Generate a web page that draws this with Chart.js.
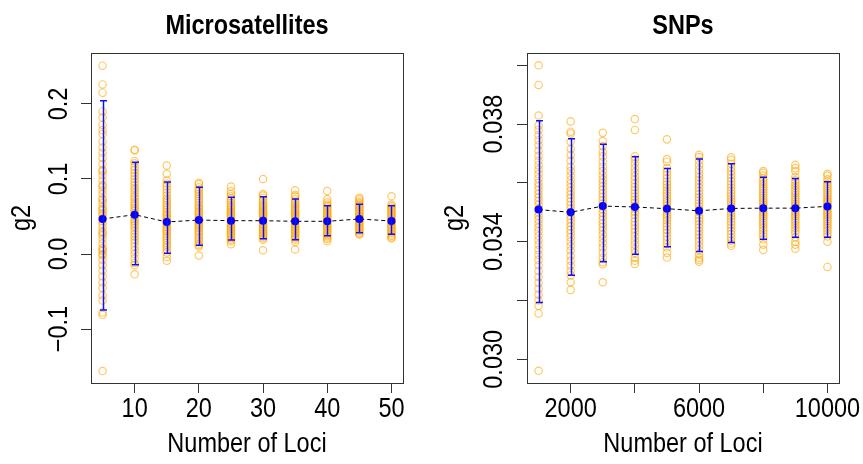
<!DOCTYPE html>
<html>
<head>
<meta charset="utf-8">
<script src="https://cdn.jsdelivr.net/npm/chart.js@4.4.1/dist/chart.umd.min.js"></script>
<style>
  body { margin: 0; background: #fff; }
  canvas { position: absolute; top: 0; }
</style>
</head>
<body>
<canvas id="micro" width="431" height="464" style="left:0"></canvas>
<canvas id="snps" width="432" height="464" style="left:431px"></canvas>
<script>
// ---- Microsatellites ----
const microLoci = [5, 10, 15, 20, 25, 30, 35, 40, 45, 50];
const microMeans = [0.0467, 0.0524, 0.0427, 0.0453, 0.0444, 0.0444, 0.0436, 0.0436, 0.0467, 0.0440];
const microUpper = [0.2044, 0.1222, 0.0960, 0.0889, 0.0756, 0.0764, 0.0733, 0.0644, 0.0662, 0.0644];
const microLower = [-0.0747, -0.0142, 0.0009, 0.0116, 0.0187, 0.0204, 0.0191, 0.0244, 0.0284, 0.0262];
const microReps = [
  [0.251, 0.226, 0.215, 0.190, 0.182, 0.172, 0.165, 0.160, 0.150, 0.142, 0.135, 0.128, 0.120, 0.112, 0.110, 0.105,
   0.098, 0.092, 0.090, 0.085, 0.080, 0.074, 0.072, 0.068, 0.063, 0.060, 0.058, 0.054, 0.052, 0.048, 0.044, 0.040,
   0.035, 0.030, 0.028, 0.025, 0.020, 0.014, 0.008, 0.006, 0.004, 0.000, -0.002, -0.008, -0.015, -0.022, -0.030,
   -0.038, -0.045, -0.055, -0.062, -0.078, -0.081, -0.156],
  [0.139, 0.138, 0.124, 0.121, 0.116, 0.112, 0.108, 0.104, 0.100, 0.096, 0.092, 0.088, 0.085, 0.081, 0.077, 0.074,
   0.070, 0.067, 0.064, 0.061, 0.058, 0.055, 0.053, 0.050, 0.047, 0.044, 0.041, 0.038, 0.035, 0.031, 0.027, 0.023,
   0.019, 0.015, 0.010, 0.005, 0.000, -0.006, -0.012, -0.015, -0.027],
  [0.118, 0.107, 0.098, 0.094, 0.090, 0.086, 0.082, 0.078, 0.074, 0.071, 0.068, 0.065, 0.062, 0.059, 0.056, 0.053,
   0.051, 0.048, 0.046, 0.044, 0.042, 0.040, 0.037, 0.035, 0.032, 0.030, 0.027, 0.024, 0.021, 0.018, 0.015, 0.012,
   0.009, 0.005, 0.002, -0.004, -0.009],
  [0.095, 0.093, 0.089, 0.086, 0.083, 0.080, 0.077, 0.074, 0.071, 0.068, 0.065, 0.062, 0.060, 0.057, 0.055, 0.053,
   0.050, 0.048, 0.046, 0.044, 0.042, 0.040, 0.038, 0.036, 0.034, 0.031, 0.029, 0.026, 0.023, 0.020, 0.017, 0.014,
   0.012, 0.010, -0.002],
  [0.090, 0.084, 0.080, 0.077, 0.074, 0.071, 0.068, 0.065, 0.063, 0.061, 0.059, 0.057, 0.055, 0.053, 0.051, 0.049,
   0.047, 0.045, 0.044, 0.042, 0.040, 0.038, 0.036, 0.034, 0.032, 0.030, 0.028, 0.026, 0.024, 0.021, 0.019, 0.017,
   0.013],
  [0.100, 0.080, 0.078, 0.075, 0.072, 0.069, 0.066, 0.064, 0.062, 0.060, 0.058, 0.056, 0.054, 0.052, 0.050, 0.048,
   0.046, 0.045, 0.043, 0.041, 0.039, 0.037, 0.035, 0.033, 0.031, 0.029, 0.027, 0.025, 0.023, 0.021, 0.019, 0.005],
  [0.085, 0.079, 0.077, 0.073, 0.070, 0.068, 0.066, 0.063, 0.061, 0.059, 0.057, 0.055, 0.053, 0.051, 0.049, 0.047,
   0.045, 0.043, 0.041, 0.039, 0.037, 0.035, 0.033, 0.031, 0.029, 0.027, 0.025, 0.023, 0.021, 0.019, 0.016, 0.006],
  [0.084, 0.073, 0.069, 0.066, 0.064, 0.062, 0.060, 0.058, 0.056, 0.054, 0.052, 0.050, 0.048, 0.046, 0.045, 0.043,
   0.041, 0.040, 0.038, 0.036, 0.034, 0.032, 0.030, 0.028, 0.026, 0.024, 0.022, 0.020, 0.017],
  [0.075, 0.073, 0.070, 0.068, 0.066, 0.064, 0.062, 0.060, 0.058, 0.056, 0.054, 0.052, 0.050, 0.049, 0.047, 0.046,
   0.044, 0.043, 0.041, 0.039, 0.037, 0.035, 0.033, 0.031, 0.029, 0.027, 0.026],
  [0.077, 0.066, 0.064, 0.062, 0.060, 0.058, 0.056, 0.054, 0.052, 0.050, 0.048, 0.046, 0.045, 0.043, 0.042, 0.040,
   0.038, 0.036, 0.034, 0.032, 0.030, 0.028, 0.026, 0.024, 0.022, 0.021]
];
const microXTicks = [10, 20, 30, 40, 50];
const microXLabels = ['10', '20', '30', '40', '50'];
const microYTicks = [-0.1, 0, 0.1, 0.2];
const microYLabels = ['\u22120.1', '0.0', '0.1', '0.2'];

// ---- SNPs ----
const snpLoci = [1000, 2000, 3000, 4000, 5000, 6000, 7000, 8000, 9000, 10000];
const snpMeans = [0.03509, 0.03500, 0.03521, 0.03518, 0.03512, 0.03505, 0.03513, 0.03514, 0.03514, 0.03520];
const snpUpper = [0.03811, 0.03750, 0.03731, 0.03689, 0.03649, 0.03681, 0.03665, 0.03619, 0.03615, 0.03604];
const snpLower = [0.03193, 0.03286, 0.03332, 0.03357, 0.03383, 0.03367, 0.03397, 0.03408, 0.03415, 0.03415];
const snpReps = [
  [0.04000, 0.03933, 0.03829, 0.03795, 0.03780, 0.03762, 0.03745, 0.03728, 0.03710, 0.03692, 0.03675, 0.03660,
   0.03645, 0.03630, 0.03615, 0.03600, 0.03588, 0.03575, 0.03562, 0.03550, 0.03538, 0.03525, 0.03512, 0.03500,
   0.03488, 0.03475, 0.03462, 0.03448, 0.03435, 0.03420, 0.03405, 0.03390, 0.03372, 0.03355, 0.03338, 0.03320,
   0.03300, 0.03280, 0.03260, 0.03240, 0.03220, 0.03200, 0.03182, 0.03156, 0.02961],
  [0.03809, 0.03774, 0.03768, 0.03740, 0.03715, 0.03695, 0.03675, 0.03655, 0.03640, 0.03625, 0.03610, 0.03598,
   0.03585, 0.03572, 0.03560, 0.03548, 0.03536, 0.03524, 0.03512, 0.03500, 0.03488, 0.03476, 0.03464, 0.03452,
   0.03440, 0.03428, 0.03415, 0.03400, 0.03385, 0.03370, 0.03352, 0.03335, 0.03318, 0.03300, 0.03286, 0.03262,
   0.03236],
  [0.03770, 0.03742, 0.03725, 0.03705, 0.03690, 0.03672, 0.03655, 0.03640, 0.03626, 0.03612, 0.03600, 0.03588,
   0.03576, 0.03564, 0.03552, 0.03540, 0.03530, 0.03520, 0.03510, 0.03498, 0.03486, 0.03474, 0.03462, 0.03450,
   0.03438, 0.03424, 0.03410, 0.03395, 0.03380, 0.03362, 0.03345, 0.03330, 0.03323, 0.03262],
  [0.03817, 0.03780, 0.03690, 0.03680, 0.03665, 0.03650, 0.03636, 0.03622, 0.03610, 0.03598, 0.03586, 0.03575,
   0.03564, 0.03553, 0.03542, 0.03532, 0.03522, 0.03512, 0.03502, 0.03492, 0.03480, 0.03468, 0.03456, 0.03444,
   0.03432, 0.03418, 0.03404, 0.03390, 0.03376, 0.03362, 0.03345, 0.03335, 0.03324],
  [0.03748, 0.03681, 0.03672, 0.03650, 0.03638, 0.03626, 0.03615, 0.03604, 0.03594, 0.03584, 0.03574, 0.03565,
   0.03556, 0.03547, 0.03538, 0.03530, 0.03522, 0.03514, 0.03506, 0.03498, 0.03490, 0.03481, 0.03472, 0.03462,
   0.03452, 0.03441, 0.03430, 0.03418, 0.03405, 0.03392, 0.03380, 0.03362, 0.03346],
  [0.03695, 0.03688, 0.03675, 0.03660, 0.03645, 0.03632, 0.03620, 0.03608, 0.03596, 0.03584, 0.03572, 0.03561,
   0.03550, 0.03540, 0.03530, 0.03520, 0.03510, 0.03500, 0.03490, 0.03480, 0.03470, 0.03459, 0.03448, 0.03436,
   0.03424, 0.03412, 0.03400, 0.03386, 0.03372, 0.03358, 0.03345, 0.03338, 0.03332],
  [0.03687, 0.03678, 0.03665, 0.03652, 0.03640, 0.03628, 0.03616, 0.03605, 0.03594, 0.03584, 0.03574, 0.03564,
   0.03555, 0.03546, 0.03537, 0.03528, 0.03520, 0.03512, 0.03504, 0.03496, 0.03487, 0.03478, 0.03468, 0.03458,
   0.03448, 0.03437, 0.03426, 0.03414, 0.03403, 0.03394, 0.03386],
  [0.03640, 0.03634, 0.03625, 0.03615, 0.03606, 0.03597, 0.03588, 0.03580, 0.03572, 0.03564, 0.03556, 0.03548,
   0.03541, 0.03534, 0.03527, 0.03520, 0.03514, 0.03508, 0.03501, 0.03494, 0.03487, 0.03480, 0.03472, 0.03464,
   0.03456, 0.03447, 0.03438, 0.03428, 0.03418, 0.03408, 0.03390, 0.03372],
  [0.03661, 0.03650, 0.03640, 0.03620, 0.03610, 0.03600, 0.03591, 0.03582, 0.03574, 0.03566, 0.03558, 0.03550,
   0.03543, 0.03536, 0.03529, 0.03522, 0.03515, 0.03508, 0.03501, 0.03494, 0.03487, 0.03480, 0.03472, 0.03464,
   0.03455, 0.03446, 0.03437, 0.03428, 0.03415, 0.03400, 0.03390, 0.03376],
  [0.03631, 0.03625, 0.03612, 0.03604, 0.03596, 0.03588, 0.03580, 0.03573, 0.03566, 0.03559, 0.03552, 0.03545,
   0.03538, 0.03532, 0.03526, 0.03520, 0.03514, 0.03508, 0.03502, 0.03496, 0.03490, 0.03484, 0.03477, 0.03470,
   0.03462, 0.03454, 0.03446, 0.03437, 0.03428, 0.03418, 0.03400, 0.03314]
];
const snpXTicks = [2000, 4000, 6000, 8000, 10000];
const snpXLabels = ['2000', '', '6000', '', '10000'];
const snpYTicks = [0.030, 0.032, 0.034, 0.036, 0.038, 0.040];
const snpYLabels = ['0.030', '', '0.034', '', '0.038', ''];

const FONT = '"Liberation Sans", Arial, Helvetica, sans-serif';
const NARROW = 0.87; // the original uses a condensed Helvetica
Chart.defaults.font.family = FONT;
Chart.defaults.color = '#000';

function putText(ctx, text, x, y, rot, font) {
  ctx.save();
  ctx.translate(x, y);
  ctx.rotate(rot);
  ctx.scale(NARROW, 1);
  ctx.font = font;
  ctx.fillStyle = '#000';
  ctx.textAlign = 'center';
  ctx.textBaseline = 'middle';
  ctx.fillText(text, 0, 0);
  ctx.restore();
}

// frame around the plot region
const boxPlugin = {
  id: 'box',
  afterDraw(chart) {
    const { ctx, chartArea: a } = chart;
    ctx.save();
    ctx.strokeStyle = '#333';
    ctx.lineWidth = 1;
    ctx.strokeRect(a.left + 0.5, a.top + 0.5, a.right - a.left, a.bottom - a.top);
    ctx.restore();
  }
};

// mean +/- error bars
const errorBarPlugin = {
  id: 'errorBars',
  afterDatasetsDraw(chart, args, opts) {
    const { ctx, scales: { x, y } } = chart;
    ctx.save();
    ctx.strokeStyle = '#1010ff';
    ctx.lineWidth = 1.5;
    opts.loci.forEach((l, i) => {
      const px = Math.round(x.getPixelForValue(l)) + 0.5;
      const top = y.getPixelForValue(opts.upper[i]);
      const bot = y.getPixelForValue(opts.lower[i]);
      ctx.beginPath();
      ctx.moveTo(px, top); ctx.lineTo(px, bot);
      ctx.moveTo(px - 3.5, top); ctx.lineTo(px + 3.5, top);
      ctx.moveTo(px - 3.5, bot); ctx.lineTo(px + 3.5, bot);
      ctx.stroke();
    });
    ctx.restore();
  }
};

// titles and tick labels, placed from the chart's own scales
const textPlugin = {
  id: 'texts',
  afterDraw(chart, args, o) {
    const { ctx, chartArea: a, scales: { x, y } } = chart;
    const cx = (a.left + a.right) / 2;
    const cy = (a.top + a.bottom) / 2;
    const reg = '27px ' + FONT;
    putText(ctx, o.title, cx, 27, 0, 'bold 27px ' + FONT);
    o.xTicks.forEach((v, i) => {
      if (o.xLabels[i]) putText(ctx, o.xLabels[i], x.getPixelForValue(v), a.bottom + 27, 0, reg);
    });
    putText(ctx, o.xTitle, cx, a.bottom + 62, 0, reg);
    o.yTicks.forEach((v, i) => {
      if (o.yLabels[i]) putText(ctx, o.yLabels[i], a.left - o.yLabelOffset, y.getPixelForValue(v), -Math.PI / 2, reg);
    });
    putText(ctx, o.yTitle, o.yTitleX, cy, -Math.PI / 2, reg);
  }
};

function makePanel(id, p) {
  const points = [];
  p.loci.forEach((l, i) => p.reps[i].forEach(v => points.push({ x: l, y: v })));
  const axisGrid = { drawOnChartArea: false, drawTicks: true, tickLength: 10, color: '#333', lineWidth: 1 };

  return new Chart(document.getElementById(id), {
    type: 'scatter',
    data: {
      datasets: [
        {
          data: points,
          order: 2,
          pointRadius: 3.7,
          pointBorderWidth: 1.2,
          pointBackgroundColor: 'rgba(0,0,0,0)',
          pointBorderColor: 'rgba(255,165,0,0.6)'
        },
        {
          type: 'line',
          data: p.loci.map((l, i) => ({ x: l, y: p.means[i] })),
          order: 1,
          showLine: true,
          fill: false,
          borderColor: '#000',
          borderWidth: 1,
          borderDash: [4, 3],
          pointRadius: 4,
          pointBorderWidth: 0,
          pointBackgroundColor: '#0000ff'
        }
      ]
    },
    options: {
      responsive: false,
      animation: false,
      layout: { padding: { left: 0, right: p.padRight, top: 53, bottom: 0 } },
      plugins: {
        legend: { display: false },
        tooltip: { enabled: false },
        errorBars: { loci: p.loci, upper: p.upper, lower: p.lower },
        texts: {
          title: p.title, xTitle: 'Number of Loci', yTitle: 'g2', yTitleX: p.yTitleX,
          xTicks: p.xTicks, xLabels: p.xLabels, yTicks: p.yTicks, yLabels: p.yLabels,
          yLabelOffset: p.yLabelOffset
        }
      },
      scales: {
        x: {
          type: 'linear',
          min: p.xMin, max: p.xMax,
          afterBuildTicks: s => { s.ticks = p.xTicks.map(v => ({ value: v })); },
          afterFit: s => { s.height = 81; },
          ticks: { display: false },
          grid: axisGrid,
          border: { display: false }
        },
        y: {
          type: 'linear',
          min: p.yMin, max: p.yMax,
          afterBuildTicks: s => { s.ticks = p.yTicks.map(v => ({ value: v })); },
          afterFit: s => { s.width = p.yWidth; },
          ticks: { display: false },
          grid: axisGrid,
          border: { display: false }
        }
      }
    },
    plugins: [boxPlugin, errorBarPlugin, textPlugin]
  });
}

makePanel('micro', {
  title: 'Microsatellites',
  loci: microLoci, means: microMeans, upper: microUpper, lower: microLower, reps: microReps,
  xTicks: microXTicks, xLabels: microXLabels, yTicks: microYTicks, yLabels: microYLabels,
  xMin: 3.2, xMax: 51.8, yMin: -0.1719, yMax: 0.2679,
  yWidth: 91, padRight: 28, yLabelOffset: 31, yTitleX: 23
});

makePanel('snps', {
  title: 'SNPs',
  loci: snpLoci, means: snpMeans, upper: snpUpper, lower: snpLower, reps: snpReps,
  xTicks: snpXTicks, xLabels: snpXLabels, yTicks: snpYTicks, yLabels: snpYLabels,
  xMin: 640, xMax: 10360, yMin: 0.029194, yMax: 0.040416,
  yWidth: 96, padRight: 24, yLabelOffset: 32.5, yTitleX: 25
});
</script>
</body>
</html>
